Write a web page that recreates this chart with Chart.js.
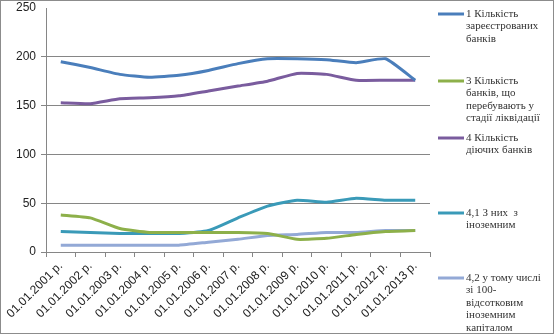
<!DOCTYPE html>
<html>
<head>
<meta charset="utf-8">
<script src="https://cdn.jsdelivr.net/npm/chart.js@4.4.0/dist/chart.umd.min.js"></script>
<style>
  html, body { margin: 0; padding: 0; background: #fff; }
</style>
</head>
<body>
<canvas id="myChart" width="554" height="334"></canvas>
<script>

var dates = ['01.01.2001 р.', '01.01.2002 р.', '01.01.2003 р.', '01.01.2004 р.', '01.01.2005 р.',
  '01.01.2006 р.', '01.01.2007 р.', '01.01.2008 р.', '01.01.2009 р.', '01.01.2010 р.',
  '01.01.2011 р.', '01.01.2012 р.', '01.01.2013 р.'];

var registered  = [195, 189, 182, 179, 181, 186, 193, 198, 198, 197, 194, 198, 176];
var liquidation = [38, 35, 24, 20, 20, 20, 20, 19, 13, 14, 18, 21, 22];
var active      = [153, 152, 157, 158, 160, 165, 170, 175, 183, 182, 176, 176, 176];
var foreign     = [21, 20, 19, 19, 19, 22, 35, 47, 53, 51, 55, 53, 53];
var foreign100  = [7, 7, 7, 7, 7, 10, 13, 17, 18, 20, 20, 22, 22];

var yTicks = [0, 50, 100, 150, 200, 250];

// legend captions, one entry per line
var captions = [
  ['1 Кількість', 'зареєстрованих', 'банків'],
  ['3 Кількість', 'банків, що', 'перебувають у', 'стадії ліквідації'],
  ['4 Кількість', 'діючих банків'],
  ['4,1 З них  з', 'іноземним'],
  ['4,2 у тому числі', 'зі 100-', 'відсотковим', 'іноземним', 'капіталом']
];

var colors = ['#4a7ebb', '#8db04a', '#7a5c9e', '#3a9ab8', '#93a9d6'];
var series = [registered, liquidation, active, foreign, foreign100];

// legend on the right, with wrapped captions
var sideLegend = {
  id: 'sideLegend',
  afterDraw: function (chart) {
    var c = chart.ctx;
    var rowY = [14, 81, 138, 213, 278];
    c.save();
    chart.data.datasets.forEach(function (ds, i) {
      var y = rowY[i];
      c.strokeStyle = ds.borderColor;
      c.lineWidth = 3;
      c.beginPath();
      c.moveTo(438, y);
      c.lineTo(464, y);
      c.stroke();
      c.fillStyle = '#333';
      c.font = '11px "Liberation Serif"';
      c.textBaseline = 'middle';
      captions[i].forEach(function (t, j) {
        c.fillText(t, 466, y + j * 12.5);
      });
    });
    c.strokeStyle = '#8c8c8c';
    c.lineWidth = 1;
    c.strokeRect(0.5, 0.5, 553, 333);
    c.restore();
  }
};

var ctx = document.getElementById('myChart');

var myChart = new Chart(ctx, {
  type: 'line',
  data: {
    labels: dates,
    datasets: series.map(function (d, i) {
      return {
        label: captions[i].join(' '),
        data: d,
        borderColor: colors[i],
        backgroundColor: colors[i],
        borderWidth: 3,
        pointRadius: 0,
        tension: 0.15,
        fill: false
      };
    })
  },
  options: {
    responsive: false,
    animation: false,
    devicePixelRatio: 1,
    layout: { padding: { top: 0, right: 124, left: 0, bottom: 0 } },
    plugins: {
      legend: { display: false },
      tooltip: { enabled: false }
    },
    scales: {
      x: {
        offset: true,
        grid: {
          offset: true,
          drawOnChartArea: false,
          drawTicks: true,
          tickLength: 5,
          color: '#868686'
        },
        border: { color: '#868686' },
        ticks: {
          autoSkip: false,
          maxRotation: 45,
          minRotation: 45,
          padding: 2,
          color: '#222',
          font: { family: 'Liberation Sans', size: 12 }
        },
        afterFit: function (scale) { scale.height = 82; }
      },
      y: {
        min: 0,
        max: 250,
        afterBuildTicks: function (scale) {
          scale.ticks = yTicks.map(function (v) { return { value: v }; });
        },
        grid: {
          color: function (c) { return c.tick && c.tick.value === 250 ? 'rgba(0,0,0,0)' : '#868686'; },
          tickLength: 5
        },
        border: { color: '#868686' },
        ticks: {
          padding: 5,
          color: '#222',
          font: { family: 'Liberation Sans', size: 12 }
        },
        afterFit: function (scale) {
          scale.width = 46;
          scale.paddingTop = 8;
        }
      }
    }
  },
  plugins: [sideLegend]
});
</script>
</body>
</html>
